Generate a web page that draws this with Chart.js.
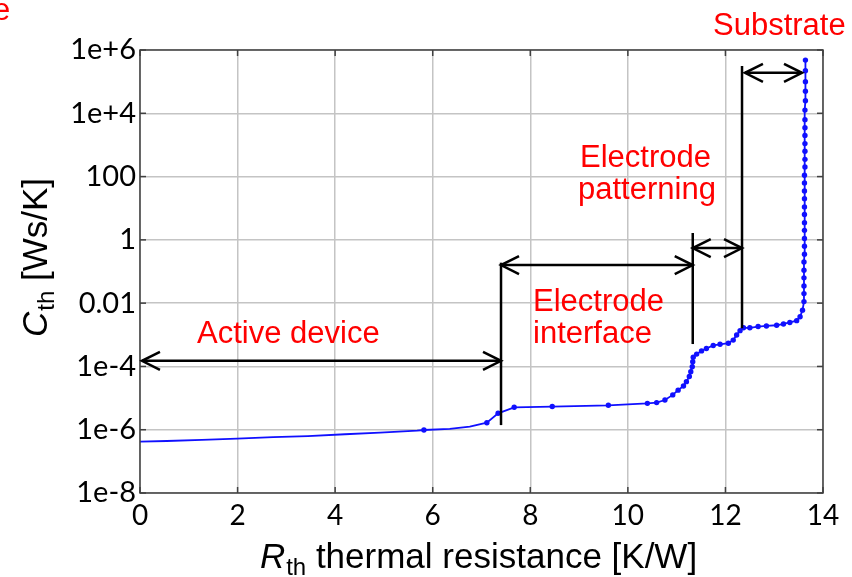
<!DOCTYPE html>
<html>
<head>
<meta charset="utf-8">
<script src="https://cdn.jsdelivr.net/npm/chart.js@4/dist/chart.umd.min.js"></script>
<style>
  html, body { margin: 0; padding: 0; background: #fff; }
  canvas { display: block; }
</style>
</head>
<body>
<canvas id="chart" width="852" height="577"></canvas>
<script>
// structure function: Rth [K/W] vs Cth [Ws/K]
const rthValues = [
  0.00, 0.55, 1.27, 1.99, 2.73, 3.44, 4.20, 4.92, 5.68, 5.82, 6.35, 6.76, 7.11, 7.34,
  7.67, 8.45, 9.60, 10.40, 10.59, 10.76, 10.92, 11.03, 11.14, 11.20, 11.26, 11.29,
  11.32, 11.33, 11.34, 11.41, 11.51, 11.61, 11.75, 11.89, 12.06, 12.16, 12.23, 12.30,
  12.37, 12.50, 12.67, 12.84, 13.05, 13.19, 13.32, 13.46, 13.53, 13.58, 13.61,
  13.61, 13.61, 13.61, 13.61, 13.61, 13.62, 13.62, 13.62, 13.62, 13.62, 13.62, 13.62,
  13.62, 13.62, 13.62, 13.62, 13.63, 13.63, 13.63, 13.63, 13.63, 13.63, 13.63, 13.63,
  13.64, 13.64, 13.64, 13.64, 13.64
];
const cthValues = [
  4.2e-7, 4.4e-7, 4.8e-7, 5.2e-7, 5.8e-7, 6.3e-7, 7.2e-7, 8.1e-7, 9.3e-7, 9.8e-7, 1.07e-6, 1.26e-6, 1.66e-6, 3.3e-6,
  5.1e-6, 5.4e-6, 5.9e-6, 6.8e-6, 7.2e-6, 8.7e-6, 1.26e-5, 1.78e-5, 2.4e-5, 3.3e-5, 4.8e-5, 6.8e-5,
  9.8e-5, 1.41e-4, 1.95e-4, 2.45e-4, 3.1e-4, 3.7e-4, 4.6e-4, 5.0e-4, 5.4e-4, 6.8e-4, 9.8e-4, 1.35e-3,
  1.66e-3, 1.66e-3, 1.82e-3, 1.9e-3, 2.0e-3, 2.2e-3, 2.45e-3, 2.8e-3, 3.7e-3, 6.0e-3, 1.12e-2,
  0.02, 0.035, 0.063, 0.11, 0.2, 0.35, 0.63, 1.1, 2.0, 3.5, 6.3, 11,
  20, 35, 63, 110, 200, 350, 630, 1100, 2000, 3500, 6300, 1.26e4,
  2.5e4, 5.0e4, 1.0e5, 2.2e5, 4.8e5
];

const xTicks = [0, 2, 4, 6, 8, 10, 12, 14];
const yTicks = [1e-8, 1e-6, 1e-4, 1e-2, 1, 100, 1e4, 1e6];
const yTickLabels = ['1e-8', '1e-6', '1e-4', '0.01', '1', '100', '1e+4', '1e+6'];

// region brackets (data units): horizontal double arrows and vertical dividers
const arrowLevel = [1.5e-4, 0.16, 0.55, 1.9e5];
const arrowFrom = [0.04, 7.40, 11.33, 12.40];
const arrowTo = [7.40, 11.33, 12.34, 13.57];
const dividerAt = [7.40, 11.33, 12.34];
const dividerTop = [0.19, 1.65, 3.1e5];
const dividerBottom = [1.4e-6, 5.1e-4, 1.6e-3];

const regionLabels = ['Active device', 'Electrode', 'interface', 'Electrode', 'patterning', 'Substrate', 'e'];
const labelPos = [
  [197, 343], [533, 311], [533, 343], [580, 167], [578, 199], [713, 35], [-7, 20]
];

const BLUE = 'rgb(16,16,255)';
const FRAME = '#404040';
const GRID = '#c4c4c4';

function strokeLine(ctx, x1, y1, x2, y2) {
  ctx.beginPath();
  ctx.moveTo(x1, y1);
  ctx.lineTo(x2, y2);
  ctx.stroke();
}

function arrowHead(ctx, x, y, dir) {
  ctx.beginPath();
  ctx.moveTo(x + dir * 18, y - 9);
  ctx.lineTo(x, y);
  ctx.lineTo(x + dir * 18, y + 9);
  ctx.stroke();
}

const decorations = {
  id: 'decorations',
  afterDraw(chart) {
    const { ctx, chartArea: a } = chart;
    const xs = chart.scales.x;
    const ys = chart.scales.y;
    ctx.save();

    // frame and inward ticks
    ctx.strokeStyle = FRAME;
    ctx.lineWidth = 1.5;
    xTicks.forEach(v => {
      const px = xs.getPixelForValue(v);
      strokeLine(ctx, px, a.bottom, px, a.bottom - 6);
      strokeLine(ctx, px, a.top, px, a.top + 6);
    });
    yTicks.forEach(v => {
      const py = ys.getPixelForValue(v);
      strokeLine(ctx, a.left, py, a.left + 6, py);
      strokeLine(ctx, a.right, py, a.right - 6, py);
    });
    ctx.strokeRect(a.left, a.top, a.right - a.left, a.bottom - a.top);

    // brackets
    ctx.strokeStyle = '#000';
    ctx.lineWidth = 2.5;
    arrowLevel.forEach((lv, i) => {
      const py = ys.getPixelForValue(lv);
      const x1 = xs.getPixelForValue(arrowFrom[i]);
      const x2 = xs.getPixelForValue(arrowTo[i]);
      strokeLine(ctx, x1, py, x2, py);
      arrowHead(ctx, x1, py, 1);
      arrowHead(ctx, x2, py, -1);
    });
    dividerAt.forEach((r, i) => {
      const px = xs.getPixelForValue(r);
      strokeLine(ctx, px, ys.getPixelForValue(dividerTop[i]), px, ys.getPixelForValue(dividerBottom[i]));
    });

    // red region names
    ctx.fillStyle = '#ff0000';
    ctx.font = '31px "Liberation Sans", Arial, sans-serif';
    ctx.textAlign = 'left';
    ctx.textBaseline = 'alphabetic';
    regionLabels.forEach((t, i) => ctx.fillText(t, labelPos[i][0], labelPos[i][1]));

    // axis titles with subscripts
    ctx.fillStyle = '#000';
    const big = '35px "Liberation Sans", Arial, sans-serif';
    const bigItalic = 'italic 35px "Liberation Sans", Arial, sans-serif';
    const sub = '24px "Liberation Sans", Arial, sans-serif';

    const drawTitle = (sym, rest, cx, baseY) => {
      ctx.font = bigItalic;
      const w1 = ctx.measureText(sym).width;
      ctx.font = sub;
      const w2 = ctx.measureText('th').width;
      ctx.font = big;
      const w3 = ctx.measureText(rest).width;
      const x0 = cx - (w1 + w2 + w3) / 2;
      ctx.font = bigItalic;
      ctx.fillText(sym, x0, baseY);
      ctx.font = sub;
      ctx.fillText('th', x0 + w1 + 1, baseY + 7);
      ctx.font = big;
      ctx.fillText(rest, x0 + w1 + w2 + 1, baseY);
    };

    drawTitle('R', ' thermal resistance [K/W]', 478, 568);

    ctx.translate(47, 258);
    ctx.rotate(-Math.PI / 2);
    drawTitle('C', ' [Ws/K]', 0, 0);

    ctx.restore();
  }
};

function buildChart() {
  const points = rthValues.map((r, i) => ({ x: r, y: cthValues[i] }));

  new Chart(document.getElementById('chart'), {
    type: 'line',
    data: {
      datasets: [{
        data: points,
        borderColor: BLUE,
        backgroundColor: BLUE,
        borderWidth: 1.8,
        pointRadius: c => {
          const r = c.raw ? c.raw.x : 0;
          return (r < 5.8 || (r > 6 && r < 7)) ? 0 : 2.7;
        },
        pointBorderWidth: 0,
        pointBackgroundColor: BLUE,
        tension: 0
      }]
    },
    options: {
      responsive: false,
      animation: false,
      devicePixelRatio: 1,
      layout: { padding: { top: 50, right: 29, left: 0, bottom: 0 } },
      plugins: { legend: { display: false }, tooltip: { enabled: false } },
      scales: {
        x: {
          type: 'linear',
          min: 0,
          max: 14,
          afterBuildTicks: s => { s.ticks = xTicks.map(v => ({ value: v })); },
          afterFit: s => { s.height = 84; },
          ticks: {
            color: '#000',
            font: { family: 'Lato', size: 28 },
            padding: 6,
            maxRotation: 0,
            autoSkip: false
          },
          grid: { color: GRID, lineWidth: 1.5, drawTicks: false },
          border: { display: false }
        },
        y: {
          type: 'logarithmic',
          min: 1e-8,
          max: 1e6,
          afterBuildTicks: s => { s.ticks = yTicks.map(v => ({ value: v })); },
          afterFit: s => { s.width = 140; },
          ticks: {
            color: '#000',
            font: { family: 'Lato', size: 29 },
            padding: 4,
            autoSkip: false,
            callback: v => {
              const i = yTicks.indexOf(v);
              return i >= 0 ? yTickLabels[i] : '';
            }
          },
          grid: { color: GRID, lineWidth: 1.5, drawTicks: false },
          border: { display: false }
        }
      }
    },
    plugins: [decorations]
  });
}

Promise.all([
  document.fonts.load('28px Lato'),
  document.fonts.load('30px "Liberation Sans"'),
  document.fonts.load('italic 30px "Liberation Sans"')
]).catch(() => {}).then(buildChart);
</script>
</body>
</html>
